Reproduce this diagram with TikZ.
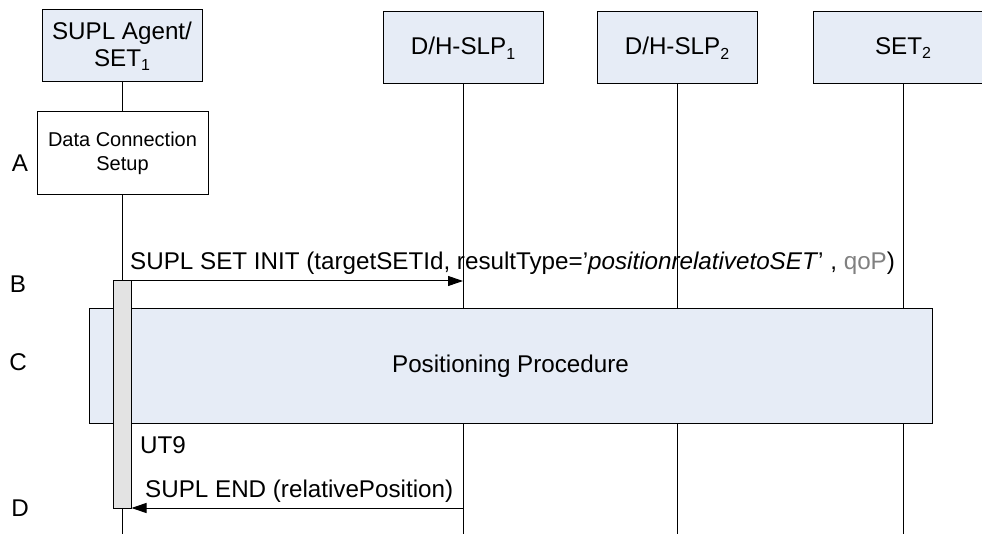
\documentclass[tikz,border=0pt]{standalone}
\usepackage{fontspec}
\setmainfont{Liberation Sans}
\usetikzlibrary{arrows.meta}
\definecolor{hdrfill}{RGB}{230,236,246}
\definecolor{barfill}{RGB}{227,227,227}
\definecolor{qopgray}{RGB}{128,128,128}
\newcommand{\lsub}[1]{\raisebox{-0.35ex}{\fontsize{16}{16}\selectfont #1}}
\tikzset{
  bigtxt/.style={font=\fontsize{24.2}{27}\selectfont},
  hdr/.style={draw, line width=1pt, fill=hdrfill, minimum width=160pt, minimum height=72pt, inner sep=0pt, align=center, bigtxt},
  lifeline/.style={line width=1pt},
  msg/.style={line width=1pt, -{Triangle[length=15pt,width=10pt]}},
  lbl/.style={bigtxt, inner sep=0pt, anchor=base west},
  steplbl/.style={bigtxt, inner sep=0pt},
}
\begin{document}
\begin{tikzpicture}[x=1pt,y=-1pt]
\useasboundingbox (0,0) rectangle (982,534);
\clip (0,0) rectangle (982,534);
% header boxes
\node[hdr] (h1) at (122,46) {SUPL Agent/\\SET\lsub{1}};
\node[hdr] (h2) at (463,48) {D/H-SLP\lsub{1}};
\node[hdr] (h3) at (677,48) {D/H-SLP\lsub{2}};
\node[hdr, minimum width=180pt] (h4) at (903,48) {SET\lsub{2}};
% lifeline ends
\coordinate (e1) at (122,534);
\coordinate (e2) at (463,534);
\coordinate (e3) at (677,534);
\coordinate (e4) at (903,534);
\draw[lifeline] (h1.south) -- (e1);
\draw[lifeline] (h2.south) -- (e2);
\draw[lifeline] (h3.south) -- (e3);
\draw[lifeline] (h4.south) -- (e4);
% data connection setup
\node[draw, line width=1pt, fill=white, minimum width=171pt, minimum height=83pt, inner sep=0pt, align=center, font=\fontsize{20}{24}\selectfont] (dcs) at (122.5,153.5) {Data Connection\\Setup};
% step letters
\node[steplbl] (lA) at (20,163) {A};
\node[steplbl] (lB) at (18,284) {B};
\node[steplbl] (lC) at (18,362) {C};
\node[steplbl] (lD) at (20,508) {D};
% positioning procedure
\node[draw, line width=1pt, fill=hdrfill, minimum width=843pt, minimum height=114pt, inner sep=0pt, bigtxt] (pp) at (510.5,366) {Positioning Procedure};
% activation bar
\node[draw, line width=1pt, fill=barfill, minimum width=18pt, minimum height=227pt, inner sep=0pt] (bar) at (122,394.5) {};
% message B
\coordinate (m1s) at (122,281);
\coordinate (m1e) at (463,281);
\draw[msg] (m1s) -- (m1e);
\node[lbl] (t1) at (130,270) {SUPL SET INIT (targetSETId, resultType=’\textit{positionrelativetoSET}’ , \textcolor{qopgray}{qoP})};
% UT9
\node[lbl] (ut9) at (140,453) {UT9};
% message D
\coordinate (m2s) at (463,508);
\draw[msg] (m2s) -- (bar.east |- m2s);
\node[lbl] (t2) at (145,497) {SUPL END (relativePosition)};
\end{tikzpicture}
\end{document}
